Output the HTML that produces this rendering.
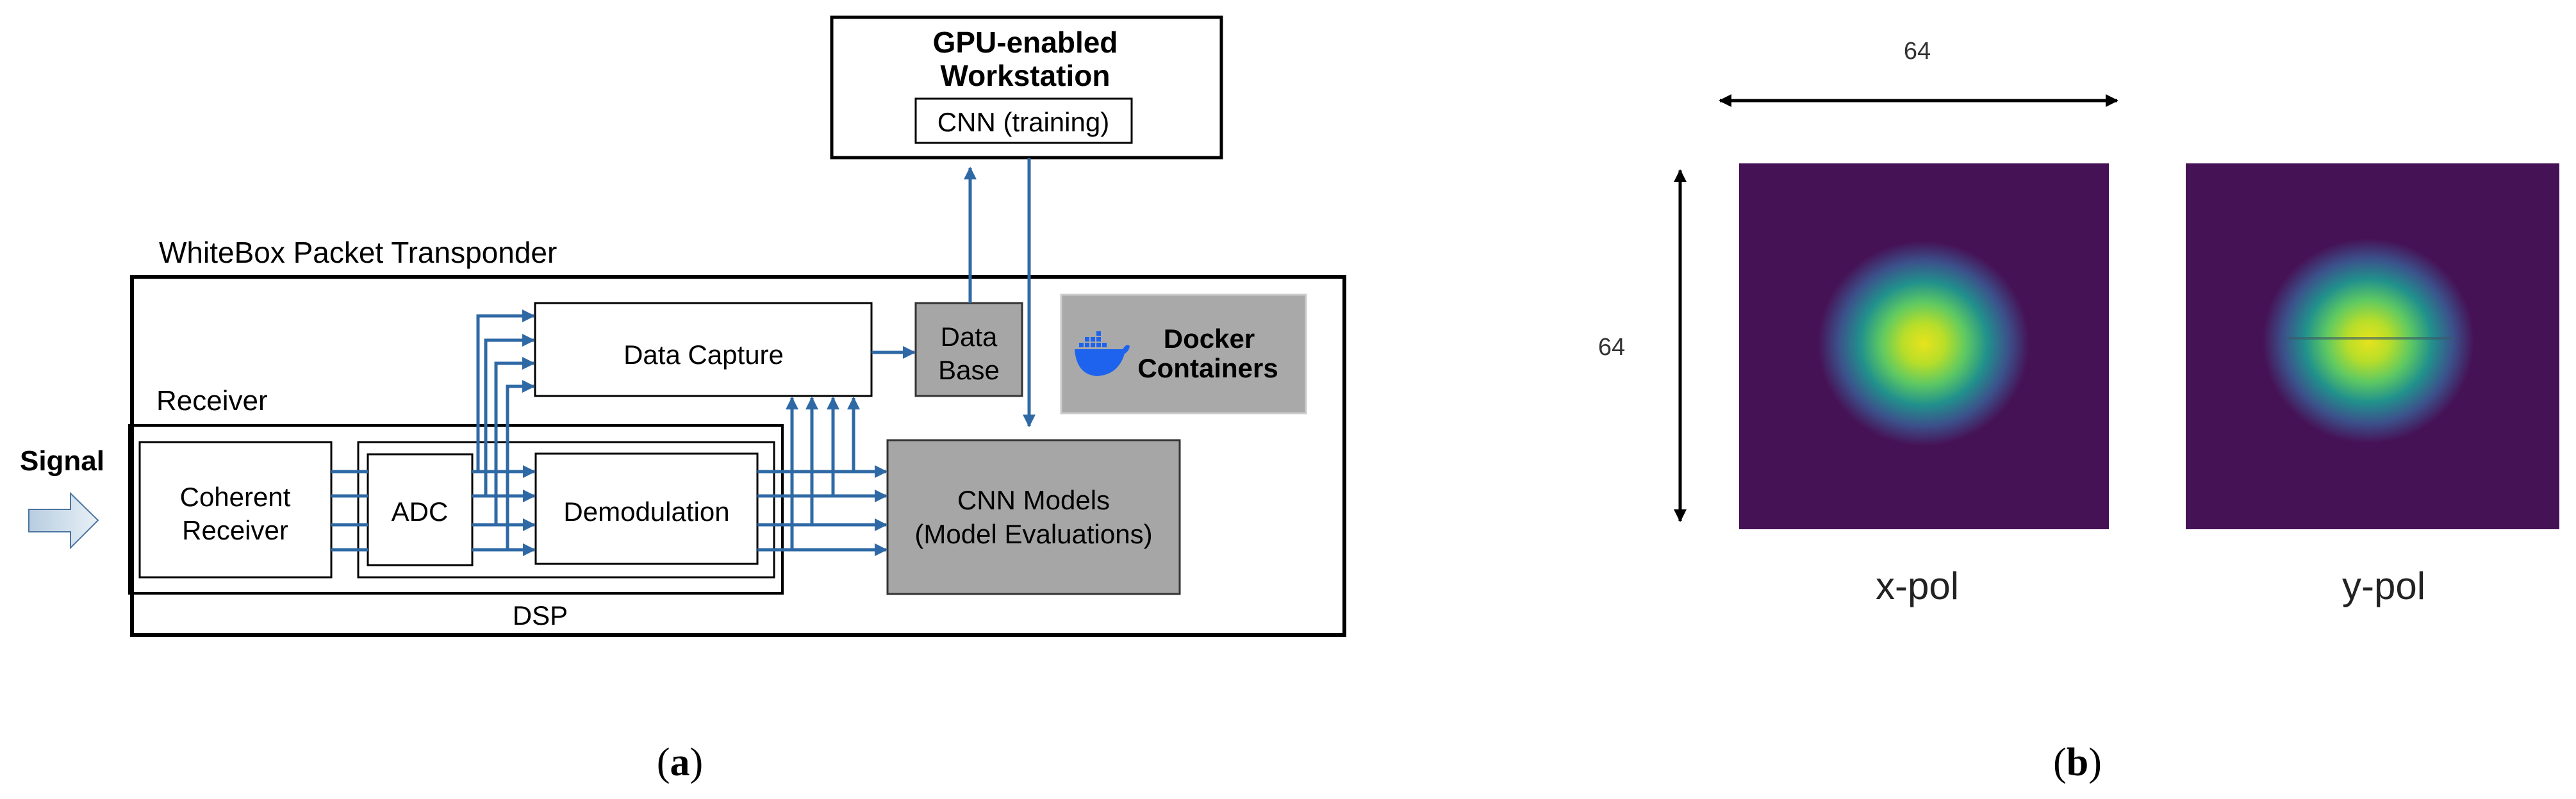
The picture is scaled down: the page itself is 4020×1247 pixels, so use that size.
<!DOCTYPE html>
<html><head><meta charset="utf-8"><style>
html,body{margin:0;padding:0;background:#fff;}
svg{display:block;}
text{font-family:"Liberation Sans",Arial,sans-serif;}
</style></head><body>
<svg width="4020" height="1247" viewBox="0 0 4020 1247" xmlns="http://www.w3.org/2000/svg">
<defs>
<marker id="ah" viewBox="0 0 10 10" refX="9" refY="5" markerWidth="4" markerHeight="4" orient="auto" markerUnits="strokeWidth">
<path d="M0,0 L10,5 L0,10 z" fill="#2e69a5"/></marker>
<marker id="bk" viewBox="0 0 10 10" refX="9" refY="5" markerWidth="4" markerHeight="4" orient="auto-start-reverse" markerUnits="strokeWidth">
<path d="M0,0 L10,5 L0,10 z" fill="#000"/></marker>
<linearGradient id="sig" x1="0" y1="0" x2="1" y2="0"><stop offset="0" stop-color="#b7cde0"/><stop offset="1" stop-color="#e8f0f7"/></linearGradient>
<radialGradient id="blob" cx="0.5" cy="0.5" r="0.5">
<stop offset="0" stop-color="#e8e31c"/><stop offset="0.2" stop-color="#b8de29"/>
<stop offset="0.4" stop-color="#5ec962"/><stop offset="0.6" stop-color="#21918c"/>
<stop offset="0.8" stop-color="#3b528b"/><stop offset="1" stop-color="#461256"/></radialGradient>
</defs>

<rect x="1298" y="27" width="608" height="219" fill="#fff" stroke="#000" stroke-width="5"/>
<text x="1600" y="82" font-size="46" font-weight="bold" text-anchor="middle">GPU-enabled</text>
<text x="1600" y="134" font-size="46" font-weight="bold" text-anchor="middle">Workstation</text>
<rect x="1429" y="154" width="337" height="69" fill="#fff" stroke="#000" stroke-width="3"/>
<text x="1597" y="205" font-size="42" text-anchor="middle">CNN (training)</text>

<text x="248" y="410" font-size="46">WhiteBox Packet Transponder</text>
<rect x="206" y="432" width="1892" height="559" fill="none" stroke="#000" stroke-width="6"/>

<rect x="835" y="473" width="525" height="145" fill="#fff" stroke="#000" stroke-width="3"/>
<text x="1098" y="568" font-size="42" text-anchor="middle">Data Capture</text>
<rect x="1429" y="473" width="166" height="145" fill="#a6a6a6" stroke="#333" stroke-width="3"/>
<text x="1512" y="540" font-size="42" text-anchor="middle">Data</text>
<text x="1512" y="592" font-size="42" text-anchor="middle">Base</text>
<rect x="1656" y="460" width="382" height="185" fill="#a9a9a9" stroke="#ccc" stroke-width="3"/>
<g fill="#1d63ed">
<path d="M1677,545 L1752,545 Q1758,535 1763,540 Q1762,548 1755,552 Q1745,585 1712,587 Q1680,585 1677,545 z"/>
<rect x="1684" y="535" width="7" height="7"/><rect x="1693" y="535" width="7" height="7"/><rect x="1702" y="535" width="7" height="7"/><rect x="1711" y="535" width="7" height="7"/><rect x="1720" y="535" width="7" height="7"/>
<rect x="1693" y="526" width="7" height="7"/><rect x="1702" y="526" width="7" height="7"/><rect x="1711" y="526" width="7" height="7"/>
<rect x="1711" y="517" width="7" height="7"/>
</g>
<text x="1887" y="543" font-size="42" font-weight="bold" text-anchor="middle">Docker</text>
<text x="1885" y="589" font-size="42" font-weight="bold" text-anchor="middle">Containers</text>

<text x="244" y="640" font-size="44">Receiver</text>
<rect x="202" y="664" width="1019" height="262" fill="none" stroke="#000" stroke-width="4"/>
<rect x="218" y="690" width="299" height="211" fill="#fff" stroke="#000" stroke-width="3"/>
<text x="367" y="790" font-size="42" text-anchor="middle">Coherent</text>
<text x="367" y="842" font-size="42" text-anchor="middle">Receiver</text>
<rect x="559" y="690" width="649" height="211" fill="none" stroke="#000" stroke-width="3"/>
<rect x="574" y="709" width="163" height="173" fill="#fff" stroke="#000" stroke-width="3"/>
<text x="655" y="813" font-size="42" text-anchor="middle">ADC</text>
<rect x="836" y="708" width="346" height="172" fill="#fff" stroke="#000" stroke-width="3"/>
<text x="1009" y="813" font-size="42" text-anchor="middle">Demodulation</text>

<rect x="1385" y="687" width="456" height="240" fill="#a6a6a6" stroke="#333" stroke-width="3"/>
<text x="1613" y="795" font-size="42" text-anchor="middle">CNN Models</text>
<text x="1613" y="848" font-size="42" text-anchor="middle">(Model Evaluations)</text>

<text x="843" y="975" font-size="42" text-anchor="middle">DSP</text>

<text x="97" y="734" font-size="44" font-weight="bold" text-anchor="middle">Signal</text>
<path d="M45,795 L110,795 L110,770 L153,812 L110,855 L110,830 L45,830 z" fill="url(#sig)" stroke="#4a74a0" stroke-width="2"/>

<g stroke="#2e69a5" stroke-width="5" fill="none">
<line x1="517" y1="736" x2="574" y2="736"/><line x1="517" y1="774" x2="574" y2="774"/>
<line x1="517" y1="819" x2="574" y2="819"/><line x1="517" y1="858" x2="574" y2="858"/>
<line x1="737" y1="736" x2="834" y2="736" marker-end="url(#ah)"/>
<line x1="737" y1="774" x2="834" y2="774" marker-end="url(#ah)"/>
<line x1="737" y1="819" x2="834" y2="819" marker-end="url(#ah)"/>
<line x1="737" y1="858" x2="834" y2="858" marker-end="url(#ah)"/>
<polyline points="746,736 746,493 833,493" marker-end="url(#ah)"/>
<polyline points="758,774 758,531 833,531" marker-end="url(#ah)"/>
<polyline points="774,819 774,567 833,567" marker-end="url(#ah)"/>
<polyline points="792,858 792,603 833,603" marker-end="url(#ah)"/>
<line x1="1182" y1="736" x2="1383" y2="736" marker-end="url(#ah)"/>
<line x1="1182" y1="774" x2="1383" y2="774" marker-end="url(#ah)"/>
<line x1="1182" y1="819" x2="1383" y2="819" marker-end="url(#ah)"/>
<line x1="1182" y1="858" x2="1383" y2="858" marker-end="url(#ah)"/>
<line x1="1236" y1="858" x2="1236" y2="621" marker-end="url(#ah)"/>
<line x1="1267" y1="819" x2="1267" y2="621" marker-end="url(#ah)"/>
<line x1="1300" y1="774" x2="1300" y2="621" marker-end="url(#ah)"/>
<line x1="1332" y1="736" x2="1332" y2="621" marker-end="url(#ah)"/>
<line x1="1360" y1="550" x2="1427" y2="550" marker-end="url(#ah)"/>
<line x1="1514" y1="473" x2="1514" y2="262" marker-end="url(#ah)"/>
<line x1="1606" y1="247" x2="1606" y2="665" marker-end="url(#ah)"/>
</g>

<text x="1061" y="1210" font-size="62" text-anchor="middle" style="font-family:'Liberation Serif',serif">(<tspan font-weight="bold">a</tspan>)</text>

<text x="2992" y="92" font-size="38" fill="#333" text-anchor="middle">64</text>
<line x1="2684" y1="157" x2="3304" y2="157" stroke="#000" stroke-width="5" marker-start="url(#bk)" marker-end="url(#bk)"/>
<line x1="2622" y1="266" x2="2622" y2="813" stroke="#000" stroke-width="5" marker-start="url(#bk)" marker-end="url(#bk)"/>
<text x="2515" y="554" font-size="38" fill="#333" text-anchor="middle">64</text>

<rect x="2714" y="255" width="577" height="571" fill="#461256"/>
<ellipse cx="3002" cy="536" rx="165" ry="160" fill="url(#blob)"/>
<rect x="3411" y="255" width="583" height="571" fill="#461256"/>
<ellipse cx="3696" cy="532" rx="165" ry="160" fill="url(#blob)"/>
<line x1="3570" y1="528" x2="3830" y2="528" stroke="#3b5a6a" stroke-width="4" opacity="0.6"/>

<text x="2992" y="935" font-size="60" fill="#222" text-anchor="middle">x-pol</text>
<text x="3720" y="935" font-size="60" fill="#222" text-anchor="middle">y-pol</text>
<text x="3242" y="1210" font-size="62" text-anchor="middle" style="font-family:'Liberation Serif',serif">(<tspan font-weight="bold">b</tspan>)</text>
</svg>
</body></html>
